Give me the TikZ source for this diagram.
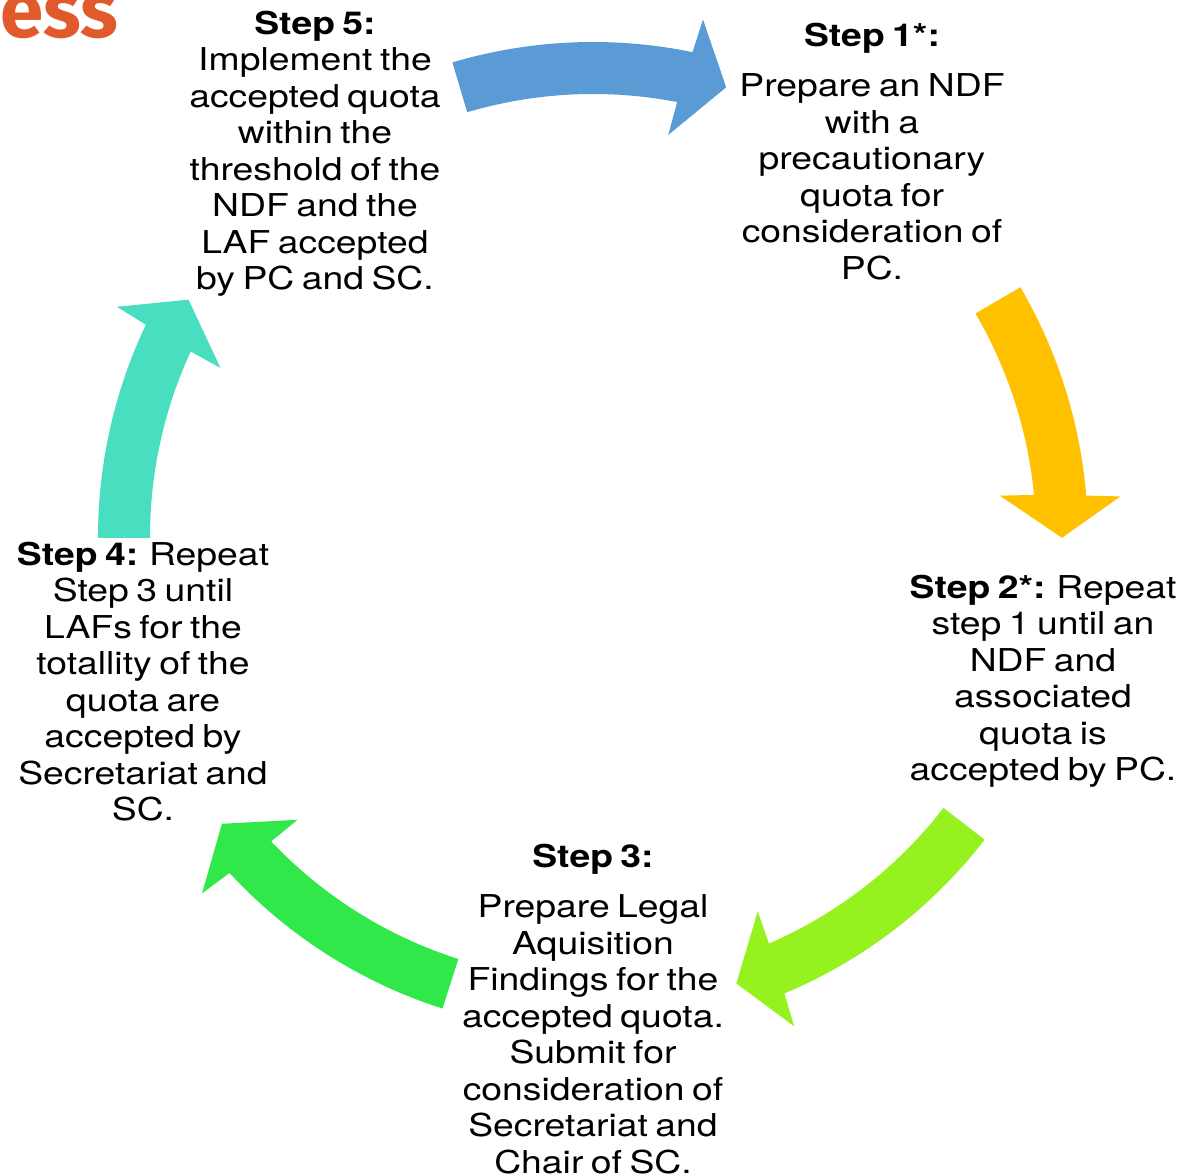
\documentclass[tikz,border=0pt]{standalone}
\usepackage{fontspec}
\setmainfont[FakeStretch=1.185,WordSpace=0.72]{TeX Gyre Heros}
\newfontfamily\logofont{Fira Sans}
\definecolor{arrBlue}{HTML}{5B9BD5}
\definecolor{arrYellow}{HTML}{FFC000}
\definecolor{arrLime}{HTML}{96F21E}
\definecolor{arrGreen}{HTML}{30E84A}
\definecolor{arrTurq}{HTML}{4ADEC0}
\definecolor{logoOrange}{HTML}{E05A2B}
% #1 colour, #2 tail angle, #3 head-base angle, #4 tip angle
\newcommand{\cyclearrow}[4]{%
  \fill[#1] ([shift={(C)}]#2:443pt) arc[start angle=#2, end angle={#3+0.35}, radius=443pt]
    -- ([shift={(C)}]{#3+0.7}:409pt) -- ([shift={(C)}]#4:469pt) -- ([shift={(C)}]{#3-0.7}:529pt)
    -- ([shift={(C)}]{#3-0.3}:495pt) arc[start angle={#3-0.3}, end angle=#2, radius=495pt] -- cycle;}
\tikzset{
  steptext/.style={align=center, inner sep=0pt, anchor=north, text=black,
    font=\fontsize{31.5}{36.5}\selectfont},
}
\begin{document}
\begin{tikzpicture}[x=1pt,y=1pt]
\useasboundingbox (0,0) rectangle (1184,1175);
\clip (0,0) rectangle (1184,1175);
\coordinate (C) at (593,638);
% logo fragment
\node[anchor=base west, inner sep=0pt, text=logoOrange,
  font=\logofont\bfseries\fontsize{78}{80}\selectfont] (logo) at (0,1137) {ess};
% arrows
\cyclearrow{arrBlue}{106.5}{78.7}{73.5}
\cyclearrow{arrYellow}{30.3}{5.1}{-0.1}
\cyclearrow{arrLime}{-37.7}{-66.95}{-72.2}
\cyclearrow{arrGreen}{-107.7}{-136.95}{-142.3}
\cyclearrow{arrTurq}{180.1}{154.9}{149.6}
% texts
\node[steptext] (s5) at (315,1166.55) {\strut\textbf{Step 5:}\\Implement the\\accepted quota\\within the\\threshold of the\\NDF and the\\LAF accepted\\by PC and SC.};
\node[steptext] (s1) at (872,1154.55) {\strut\textbf{Step 1*:}\\[14pt]Prepare an NDF\\with a\\precautionary\\quota for\\consideration of\\PC.};
\node[steptext] (s2) at (1043,602.55) {\strut\textbf{Step 2*:} Repeat\\step 1 until an\\NDF and\\associated\\quota is\\accepted by PC.};
\node[steptext] (s4) at (143,635.55) {\strut\textbf{Step 4:} Repeat\\Step 3 until\\LAFs for the\\totallity of the\\quota are\\accepted by\\Secretariat and\\SC.};
\node[steptext] (s3) at (593,333.55) {\strut\textbf{Step 3:}\\[14pt]Prepare Legal\\Aquisition\\Findings for the\\accepted quota.\\Submit for\\consideration of\\Secretariat and\\Chair of SC.};
\end{tikzpicture}
\end{document}
